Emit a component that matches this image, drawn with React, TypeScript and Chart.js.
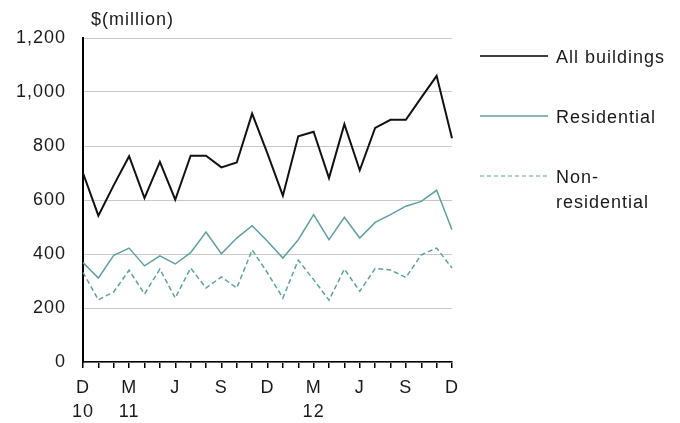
import React, { useEffect, useRef } from "react";
import { Chart, registerables } from "chart.js";

Chart.register(...registerables);

const months = ["D10","J","F","M11","A","M","J","J","A","S","O","N","D","J","F","M12","A","M","J","J","A","S","O","N","D"];
const tickLabels: (string | string[])[] = [
  ["D", "10"], "", "", ["M", "11"], "", "", "J", "", "", "S", "", "",
  "D", "", "", ["M", "12"], "", "", "J", "", "", "S", "", "", "D",
];
const allBuildings = [700, 542, 655, 762, 607, 741, 601, 764, 764, 721, 739, 920, 772, 616, 836, 853, 681, 881, 710, 867, 897, 897, 979, 1060, 829];
const residential = [368, 311, 395, 422, 356, 393, 363, 405, 481, 401, 459, 505, 447, 385, 453, 546, 453, 536, 459, 517, 546, 577, 595, 636, 490];
const nonResidential = [332, 230, 260, 340, 252, 344, 237, 348, 274, 315, 274, 415, 330, 237, 377, 305, 229, 344, 262, 346, 341, 313, 397, 422, 348];
const seriesNames = ["All buildings", "Residential", "Non-residential"];
const yTicks = [0, 200, 400, 600, 800, 1000, 1200];

const TEAL = "#5f9f9f";
const TEXT = "#1a1a1a";
const FONT = "'Liberation Sans', Arial, sans-serif";
const SPACING = "1px";

export default function App() {
  const ref = useRef<HTMLCanvasElement | null>(null);
  useEffect(() => {
    if (!ref.current) return;
    const legendPlugin = {
      id: "customLegend",
      beforeDraw(chart: any) {
        (chart.ctx as any).letterSpacing = SPACING;
      },
      afterDraw(chart: any) {
        const ctx = chart.ctx as CanvasRenderingContext2D;
        ctx.save();
        (ctx as any).letterSpacing = SPACING;
        ctx.font = `18px ${FONT}`;
        ctx.fillStyle = TEXT;
        ctx.textBaseline = "middle";
        ctx.textAlign = "left";
        ctx.fillText("$(million)", 91, 20);
        const items = [
          { y: 56, color: "#000", dash: [] as number[], w: 1.5, lines: [seriesNames[0]] },
          { y: 116, color: TEAL, dash: [] as number[], w: 1.5, lines: [seriesNames[1]] },
          { y: 176, color: TEAL, dash: [4, 3], w: 1.2, lines: ["Non-", "residential"] },
        ];
        for (const it of items) {
          ctx.beginPath();
          ctx.setLineDash(it.dash);
          ctx.strokeStyle = it.color;
          ctx.lineWidth = it.w;
          ctx.moveTo(480, it.y);
          ctx.lineTo(548, it.y);
          ctx.stroke();
          ctx.setLineDash([]);
          it.lines.forEach((t, i) => ctx.fillText(t, 556, it.y + 2 + i * 25));
        }
        ctx.restore();
      },
    };
    const chart = new Chart(ref.current, {
      type: "line",
      data: {
        labels: months,
        datasets: [
          { label: seriesNames[0], data: allBuildings, borderColor: "#111", borderWidth: 2, pointRadius: 0, tension: 0 },
          { label: seriesNames[1], data: residential, borderColor: TEAL, borderWidth: 1.5, pointRadius: 0, tension: 0 },
          { label: seriesNames[2], data: nonResidential, borderColor: TEAL, borderWidth: 1.5, borderDash: [5, 3], pointRadius: 0, tension: 0 },
        ],
      },
      options: {
        animation: false,
        responsive: false,
        maintainAspectRatio: false,
        layout: { padding: { left: 0, right: 228, top: 38, bottom: 0 } },
        plugins: { legend: { display: false }, tooltip: { enabled: false } },
        scales: {
          x: {
            type: "category",
            offset: false,
            afterFit(scale: any) { scale.height = 61; },
            grid: { display: true, drawOnChartArea: false, drawTicks: true, tickLength: 6, color: "#000", lineWidth: 1.5 },
            border: { display: true, color: "#000", width: 1.5 },
            ticks: {
              autoSkip: false,
              maxRotation: 0,
              padding: 8,
              color: TEXT,
              font: { family: FONT, size: 18, lineHeight: 1.35 },
              callback: (_v: any, i: number) => tickLabels[i],
            },
          },
          y: {
            min: 0,
            max: 1200,
            afterFit(scale: any) { scale.width = 83; },
            afterBuildTicks(scale: any) { scale.ticks = yTicks.map((v) => ({ value: v })); },
            grid: { color: "#c8c8c8", lineWidth: 1, drawTicks: false },
            border: { display: true, color: "#000", width: 2 },
            ticks: {
              padding: 17,
              color: TEXT,
              font: { family: FONT, size: 18 },
              callback: (v: any) => Number(v).toLocaleString("en-US"),
            },
          },
        },
      },
      plugins: [legendPlugin],
    });
    return () => chart.destroy();
  }, []);
  return (
    <div style={{ position: "absolute", left: 0, top: 0, width: 680, height: 423, background: "#fff" }}>
      <canvas ref={ref} width={680} height={423} style={{ width: 680, height: 423 }} />
    </div>
  );
}
